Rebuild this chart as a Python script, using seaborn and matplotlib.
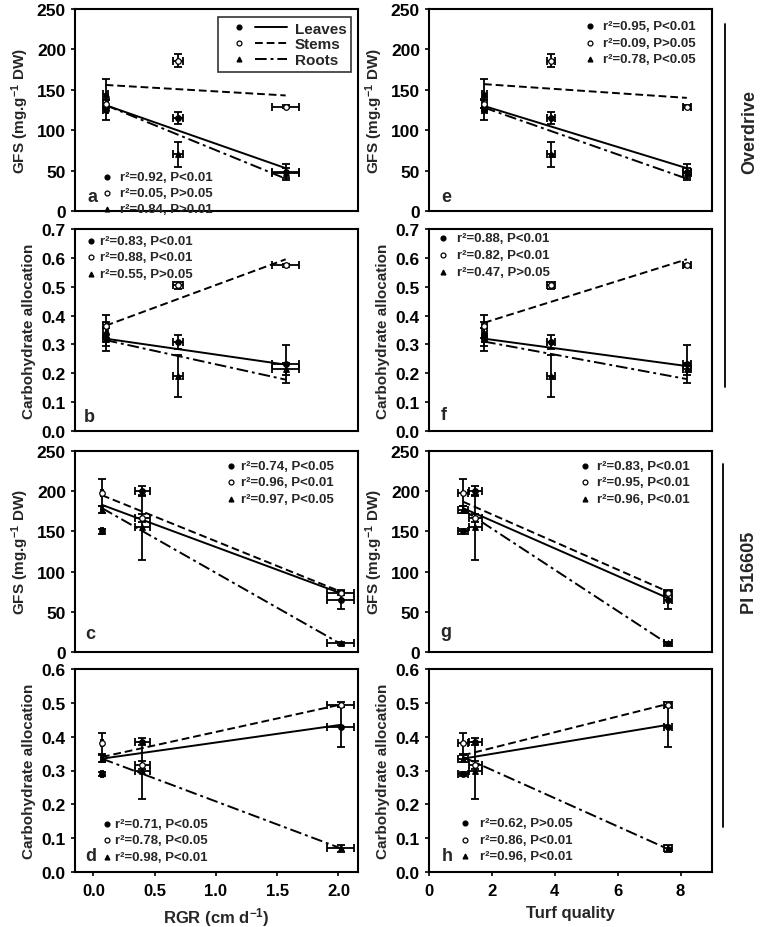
import matplotlib
matplotlib.use('Agg')
import matplotlib.pyplot as plt
import seaborn as sns
from matplotlib.lines import Line2D
from matplotlib.legend_handler import HandlerTuple

sns.set_theme(style='ticks')
plt.rcParams['font.family'] = ['Liberation Sans', 'DejaVu Sans']
plt.rcParams['font.weight'] = 'bold'
plt.rcParams['axes.labelweight'] = 'bold'
plt.rcParams['mathtext.fontset'] = 'custom'
plt.rcParams['mathtext.rm'] = 'Liberation Sans:bold'
plt.rcParams['mathtext.it'] = 'Liberation Sans:bold'
plt.rcParams['mathtext.bf'] = 'Liberation Sans:bold'

tissues = ['Leaves', 'Stems', 'Roots']

# Overdrive: x variables (cluster means and SE)
rgr_od = [0.10, 0.69, 1.57]
rgr_od_err = [0.02, 0.04, 0.11]
tq_od = [1.75, 3.88, 8.2]
tq_od_err = [0.08, 0.12, 0.12]

# Overdrive GFS
gfs_od_leaves = [125, 115, 48]
gfs_od_leaves_err = [12, 7, 10]
gfs_od_stems = [133, 186, 129]
gfs_od_stems_err = [5, 8, 2]
gfs_od_roots = [145, 70, 47]
gfs_od_roots_err = [18, 15, 6]

# Overdrive carbohydrate allocation
carb_od_leaves = [0.336, 0.308, 0.232]
carb_od_leaves_err = [0.04, 0.025, 0.065]
carb_od_stems = [0.363, 0.505, 0.575]
carb_od_stems_err = [0.04, 0.012, 0.005]
carb_od_roots = [0.318, 0.190, 0.215]
carb_od_roots_err = [0.04, 0.072, 0.02]

# PI 516605: x variables
rgr_pi = [0.07, 0.40, 2.02]
rgr_pi_err = [0.01, 0.06, 0.11]
tq_pi = [1.08, 1.47, 7.6]
tq_pi_err = [0.15, 0.2, 0.12]

# PI 516605 GFS
gfs_pi_leaves = [150, 200, 65]
gfs_pi_leaves_err = [3, 6, 11]
gfs_pi_stems = [198, 167, 74]
gfs_pi_stems_err = [17, 5, 3]
gfs_pi_roots = [177, 155, 11]
gfs_pi_roots_err = [4, 40, 2]

# PI 516605 carbohydrate allocation
carb_pi_leaves = [0.29, 0.385, 0.43]
carb_pi_leaves_err = [0.005, 0.01, 0.06]
carb_pi_stems = [0.38, 0.315, 0.495]
carb_pi_stems_err = [0.03, 0.012, 0.008]
carb_pi_roots = [0.335, 0.30, 0.07]
carb_pi_roots_err = [0.01, 0.085, 0.01]

# regression lines (y at lowest and highest x), Leaves / Stems / Roots
fit_a = [(131, 53), (156, 143), (131, 40)]
fit_e = [(130, 53), (157, 140), (128, 40)]
fit_b = [(0.32, 0.23), (0.365, 0.595), (0.315, 0.178)]
fit_f = [(0.32, 0.225), (0.375, 0.595), (0.31, 0.18)]
fit_c = [(183, 73), (195, 75), (179, 10)]
fit_g = [(179, 67), (187, 75), (177, 10)]
fit_d = [(0.335, 0.435), (0.34, 0.495), (0.335, 0.07)]
fit_h = [(0.335, 0.435), (0.345, 0.497), (0.34, 0.068)]

# regression statistics
stats_a = ['0.92, P<0.01', '0.05, P>0.05', '0.84, P>0.01']
stats_e = ['0.95, P<0.01', '0.09, P>0.05', '0.78, P<0.05']
stats_b = ['0.83, P<0.01', '0.88, P<0.01', '0.55, P>0.05']
stats_f = ['0.88, P<0.01', '0.82, P<0.01', '0.47, P>0.05']
stats_c = ['0.74, P<0.05', '0.96, P<0.01', '0.97, P<0.05']
stats_g = ['0.83, P<0.01', '0.95, P<0.01', '0.96, P<0.01']
stats_d = ['0.71, P<0.05', '0.78, P<0.05', '0.98, P<0.01']
stats_h = ['0.62, P>0.05', '0.86, P<0.01', '0.96, P<0.01']

markers = {'Leaves': 'o', 'Stems': 'o', 'Roots': '^'}
faces = {'Leaves': 'black', 'Stems': 'white', 'Roots': 'black'}
styles = {'Leaves': '-', 'Stems': (0, (4, 2)), 'Roots': (0, (6, 2, 1.5, 2))}

gfs_label = 'GFS (mg.g$^{-1}$ DW)'
carb_label = 'Carbohydrate allocation'

W, H = 760, 928
left_x, right_x, col_w = 75, 429, 283
rows = [(10, 212), (230, 432), (452, 653), (670, 873)]

panels = [
    # letter, col, row, x, xerr, ys, yerrs, fits, stats, ylim, yticks, ylabel,
    # letter pos, stats (marker x, text x, first y, step)
    ('a', 0, 0, rgr_od, rgr_od_err,
     [gfs_od_leaves, gfs_od_stems, gfs_od_roots],
     [gfs_od_leaves_err, gfs_od_stems_err, gfs_od_roots_err],
     fit_a, stats_a, (0, 250), range(0, 251, 50), gfs_label,
     (0.045, 0.07), (0.113, 0.16, 0.17, 0.079)),
    ('b', 0, 1, rgr_od, rgr_od_err,
     [carb_od_leaves, carb_od_stems, carb_od_roots],
     [carb_od_leaves_err, carb_od_stems_err, carb_od_roots_err],
     fit_b, stats_b, (0, 0.7), [i / 10 for i in range(8)], carb_label,
     (0.03, 0.07), (0.055, 0.09, 0.94, 0.081)),
    ('c', 0, 2, rgr_pi, rgr_pi_err,
     [gfs_pi_leaves, gfs_pi_stems, gfs_pi_roots],
     [gfs_pi_leaves_err, gfs_pi_stems_err, gfs_pi_roots_err],
     fit_c, stats_c, (0, 250), range(0, 251, 50), gfs_label,
     (0.035, 0.09), (0.55, 0.585, 0.925, 0.081)),
    ('d', 0, 3, rgr_pi, rgr_pi_err,
     [carb_pi_leaves, carb_pi_stems, carb_pi_roots],
     [carb_pi_leaves_err, carb_pi_stems_err, carb_pi_roots_err],
     fit_d, stats_d, (0, 0.6), [i / 10 for i in range(7)], carb_label,
     (0.035, 0.08), (0.113, 0.14, 0.238, 0.081)),
    ('e', 1, 0, tq_od, tq_od_err,
     [gfs_od_leaves, gfs_od_stems, gfs_od_roots],
     [gfs_od_leaves_err, gfs_od_stems_err, gfs_od_roots_err],
     fit_e, stats_e, (0, 250), range(0, 251, 50), gfs_label,
     (0.045, 0.07), (0.569, 0.615, 0.916, 0.082)),
    ('f', 1, 1, tq_od, tq_od_err,
     [carb_od_leaves, carb_od_stems, carb_od_roots],
     [carb_od_leaves_err, carb_od_stems_err, carb_od_roots_err],
     fit_f, stats_f, (0, 0.7), [i / 10 for i in range(8)], carb_label,
     (0.04, 0.08), (0.05, 0.1, 0.955, 0.083)),
    ('g', 1, 2, tq_pi, tq_pi_err,
     [gfs_pi_leaves, gfs_pi_stems, gfs_pi_roots],
     [gfs_pi_leaves_err, gfs_pi_stems_err, gfs_pi_roots_err],
     fit_g, stats_g, (0, 250), range(0, 251, 50), gfs_label,
     (0.04, 0.1), (0.55, 0.594, 0.925, 0.081)),
    ('h', 1, 3, tq_pi, tq_pi_err,
     [carb_pi_leaves, carb_pi_stems, carb_pi_roots],
     [carb_pi_leaves_err, carb_pi_stems_err, carb_pi_roots_err],
     fit_h, stats_h, (0, 0.6), [i / 10 for i in range(7)], carb_label,
     (0.046, 0.08), (0.127, 0.18, 0.24, 0.081)),
]

fig = plt.figure(figsize=(W / 100, H / 100), dpi=100)

for (letter, col, row, x, xerr, ys, yerrs, fits, stats, ylim, yticks, ylabel,
     lpos, spos) in panels:
    top, bot = rows[row]
    x0 = left_x if col == 0 else right_x
    ax = fig.add_axes([x0 / W, 1 - bot / H, col_w / W, (bot - top) / H])

    for t, y, yerr, fit in zip(tissues, ys, yerrs, fits):
        ax.errorbar(x, y, xerr=xerr, yerr=yerr, fmt='none', ecolor='black',
                    elinewidth=1.3, capsize=3, capthick=1.3, zorder=2)
        ax.plot([x[0], x[-1]], fit, color='black', lw=1.4, ls=styles[t], zorder=3)
        sns.scatterplot(x=x, y=y, marker=markers[t], color=faces[t], edgecolor='black',
                        linewidth=0.9, s=16, ax=ax, zorder=4)

    ax.set_ylim(*ylim)
    ax.set_yticks(list(yticks))
    ax.set_yticklabels([f'{v:g}' if ylim[1] > 1 else f'{v:.1f}' for v in yticks])
    ax.set_ylabel(ylabel, fontsize=11, labelpad=4)

    if col == 0:
        ax.set_xlim(-0.15, 2.16)
    else:
        ax.set_xlim(0, 9)
    if row == 3:
        if col == 0:
            ax.set_xticks([0, 0.5, 1.0, 1.5, 2.0])
            ax.set_xticklabels(['0.0', '0.5', '1.0', '1.5', '2.0'])
            ax.set_xlabel('RGR (cm d$^{-1}$)', fontsize=12, labelpad=5)
        else:
            ax.set_xticks([0, 2, 4, 6, 8])
            ax.set_xlabel('Turf quality', fontsize=12, labelpad=5)
    else:
        ax.set_xticks([])

    ax.tick_params(direction='out', length=3, width=1.2, colors='black')
    ax.tick_params(axis='y', labelsize=12.5)
    ax.tick_params(axis='x', labelsize=12, pad=5)
    for s in ax.spines.values():
        s.set_visible(True)
        s.set_linewidth(1.5)
        s.set_color('black')

    ax.text(lpos[0], lpos[1], letter, transform=ax.transAxes, fontsize=13,
            fontweight='bold', ha='left', va='center')

    mx, tx, y0, dy = spos
    for i, (t, s) in enumerate(zip(tissues, stats)):
        yy = y0 - i * dy
        ax.plot(mx, yy, marker=markers[t], ms=3.5, mfc=faces[t], mec='black',
                mew=0.9, ls='none', transform=ax.transAxes, clip_on=False)
        ax.text(tx, yy, 'r\u00b2=' + s, transform=ax.transAxes, fontsize=9.5,
                fontweight='bold', ha='left', va='center')

    if letter == 'a':
        handles = []
        for t in tissues:
            mk = Line2D([], [], marker=markers[t], ms=3.5, mfc=faces[t], mec='black',
                        mew=0.9, ls='none')
            ln = Line2D([], [], color='black', lw=1.4, ls=styles[t])
            handles.append((mk, ln))
        leg = ax.legend(handles, tissues, handler_map={tuple: HandlerTuple(ndivide=2, pad=0)},
                        loc='upper right', bbox_to_anchor=(0.975, 0.96), handlelength=4.2,
                        fontsize=11, frameon=True, fancybox=False, edgecolor='black',
                        borderpad=0.3, labelspacing=0.12, handletextpad=0.5, borderaxespad=0)
        leg.get_frame().set_linewidth(1.2)

# cultivar brackets on the right
fig.add_artist(Line2D([725 / W, 725 / W], [1 - 25 / H, 1 - 388 / H], color='black', lw=1.3))
fig.add_artist(Line2D([723 / W, 723 / W], [1 - 465 / H, 1 - 828 / H], color='black', lw=1.3))
fig.text(750 / W, 1 - 132 / H, 'Overdrive', rotation=90, ha='center', va='center',
         fontsize=13, fontweight='bold')
fig.text(750 / W, 1 - 573 / H, 'PI 516605', rotation=90, ha='center', va='center',
         fontsize=13, fontweight='bold')

fig.savefig('out.png', dpi=100)
